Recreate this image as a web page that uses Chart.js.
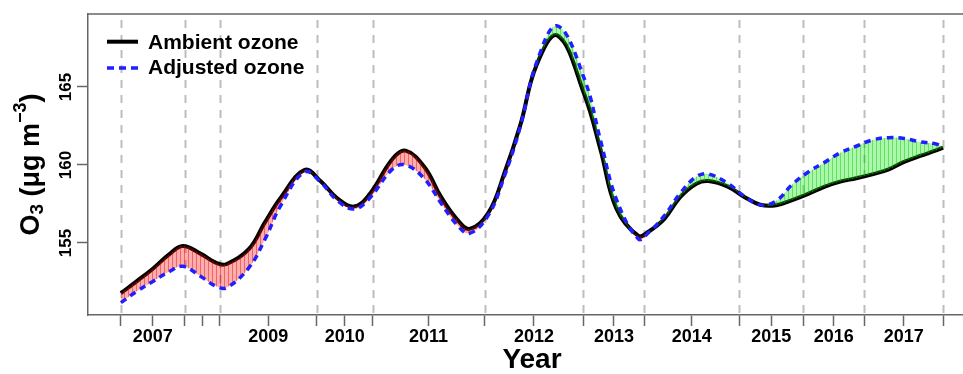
<!DOCTYPE html>
<html><head><meta charset="utf-8">
<script src="https://cdn.jsdelivr.net/npm/chart.js@4.4.1/dist/chart.umd.min.js"></script>
<style>
html,body{margin:0;padding:0;overflow:hidden;background:#fff;width:963px;height:374px}
#wrap{position:absolute;left:0;top:0;width:990px;height:374px}
</style>
</head><body><div id="wrap"><canvas id="c"></canvas></div>
<script>
// observation index (time axis, irregular per year)
const obsIndex = [0,16,32,48,62,80,96,106,128,144,160,184,200,216,233,248,272,285,304,320,336,349,368,384,400,416,437,464,480,496,518,528,544,560,576,588,608,624,640,656,672,688,704,720,736,752,768,784,800,816,823];
const ambientOzone = [151.78,152.55,153.35,154.25,154.81,154.3,153.7,153.65,154.6,156.3,157.9,159.68,158.95,157.9,157.33,158.05,160.4,160.92,159.85,158.0,156.55,155.9,156.95,159.5,162.6,166.4,168.3,164.5,161.0,157.2,155.45,155.72,156.55,157.95,158.8,158.97,158.6,157.95,157.45,157.42,157.75,158.15,158.6,158.93,159.15,159.4,159.7,160.2,160.58,160.93,161.11];
const adjustedOzone = [151.17,151.9,152.53,153.15,153.5,152.85,152.2,152.14,153.4,155.2,157.4,159.55,158.9,157.75,157.18,157.8,159.75,160.0,159.1,157.6,156.2,155.62,156.8,159.3,162.5,166.55,168.92,165.5,161.6,157.8,155.25,155.65,156.75,158.2,159.25,159.42,158.8,158.0,157.44,157.7,158.75,159.55,160.15,160.78,161.2,161.6,161.75,161.7,161.48,161.35,161.17];
const yearBoundaries = [0,64,99,196,252,364,463,524,619,683,744,823];
const yearCenters = [32,81.5,147.5,224,308,413.5,493.5,571.5,651,713.5,783.5];
const yearLabels = ['2007','','2009','2010','2011','2012','2013','2014','2015','2016','2017'];
const yTicks = [155,160,165];
const seriesNames = ['Ambient ozone','Adjusted ozone'];

const FONT = "'Liberation Sans', Arial, sans-serif";
function hatch(bg, stripe){
  const c=document.createElement('canvas'); c.width=4; c.height=4;
  const g=c.getContext('2d'); g.fillStyle=bg; g.fillRect(0,0,4,4);
  g.fillStyle=stripe; g.fillRect(0,0,1,4);
  return g.createPattern(c,'repeat');
}
const redPat = hatch('rgba(255,0,0,0.32)','rgba(215,0,0,0.42)');
const greenPat = hatch('rgba(0,235,0,0.33)','rgba(0,185,0,0.42)');

const pts = arr => obsIndex.map((x,i)=>({x:x,y:arr[i]}));
const BLUE = '#1f1fff';
const DASH = [6.5,5];

const decor = {
  id:'decor',
  beforeDatasetsDraw(chart){
    const {ctx, chartArea:ca, scales:{x}} = chart;
    ctx.save();
    ctx.strokeStyle='#bdbdbd'; ctx.lineWidth=2; ctx.setLineDash([8,7]); ctx.lineDashOffset=-6;
    yearBoundaries.forEach(b=>{
      const px = Math.round(x.getPixelForValue(b))+0.5;
      ctx.beginPath(); ctx.moveTo(px, ca.top); ctx.lineTo(px, ca.bottom); ctx.stroke();
    });
    ctx.restore();
  },
  afterDraw(chart){
    const {ctx, chartArea:ca, scales:{y}} = chart;
    ctx.save();
    ctx.strokeStyle='#666'; ctx.lineWidth=1.5;
    ctx.beginPath(); ctx.moveTo(ca.left, ca.top); ctx.lineTo(ca.right, ca.top); ctx.lineTo(ca.right, ca.bottom); ctx.stroke();
    ctx.fillStyle='#000'; ctx.font='bold 17px '+FONT; ctx.textAlign='center'; ctx.textBaseline='alphabetic';
    yTicks.forEach(v=>{
      const py = y.getPixelForValue(v);
      ctx.save(); ctx.translate(71, py); ctx.rotate(-Math.PI/2); ctx.fillText(String(v),0,0); ctx.restore();
    });
    const pieces=[{t:'O',s:27,dy:0},{t:'3',s:19,dy:4},{t:' (\u03bcg m',s:27,dy:0},{t:'\u22123',s:18,dy:-13},{t:')',s:27,dy:0}];
    let total=0;
    pieces.forEach(p=>{ctx.font='bold '+p.s+'px '+FONT; p.w=ctx.measureText(p.t).width; total+=p.w;});
    ctx.save(); ctx.translate(39,(ca.top+ca.bottom)/2); ctx.rotate(-Math.PI/2);
    ctx.textAlign='left'; let px=-total/2;
    pieces.forEach(p=>{ctx.font='bold '+p.s+'px '+FONT; ctx.fillText(p.t,px,p.dy); px+=p.w;});
    ctx.restore();
    const lx0=ca.left+19, lx1=ca.left+50, tx=ca.left+60;
    ctx.lineCap='butt';
    ctx.strokeStyle='#000'; ctx.lineWidth=4; ctx.setLineDash([]);
    ctx.beginPath(); ctx.moveTo(lx0, ca.top+27.7); ctx.lineTo(lx1, ca.top+27.7); ctx.stroke();
    ctx.strokeStyle=BLUE; ctx.lineWidth=3.5; ctx.setLineDash([7,5]);
    ctx.beginPath(); ctx.moveTo(lx0, ca.top+54); ctx.lineTo(lx1, ca.top+54); ctx.stroke();
    ctx.setLineDash([]);
    ctx.fillStyle='#000'; ctx.font='bold 21px '+FONT; ctx.textAlign='left'; ctx.textBaseline='alphabetic';
    ctx.fillText(seriesNames[0], tx, ca.top+34.5);
    ctx.fillText(seriesNames[1], tx, ca.top+60);
    ctx.restore();
  }
};

new Chart(document.getElementById('c'), {
  type:'line',
  data:{datasets:[
    {label:seriesNames[1], data:pts(adjustedOzone), borderColor:BLUE, borderWidth:3.5, borderDash:DASH,
     pointRadius:0, tension:0.4, fill:{target:1, above:greenPat, below:redPat}},
    {label:seriesNames[0], data:pts(ambientOzone), borderColor:'#000', borderWidth:4,
     pointRadius:0, tension:0.4, fill:false}
  ]},
  options:{
    responsive:true, maintainAspectRatio:false, animation:false, devicePixelRatio:1,
    layout:{padding:{top:14,right:14,left:0,bottom:0}},
    plugins:{legend:{display:false}, tooltip:{enabled:false}},
    scales:{
      x:{type:'linear', min:-32.92, max:855.92,
        afterBuildTicks:s=>{ const v=yearBoundaries.concat(yearCenters).sort((a,b)=>a-b); s.ticks=v.map(t=>({value:t})); },
        ticks:{autoSkip:false, maxRotation:0, minRotation:0, padding:0, color:'#000',
          font:{family:FONT, size:18, weight:'bold'},
          callback:(v)=>{ const i=yearCenters.indexOf(v); return i>=0?yearLabels[i]:''; }},
        grid:{drawOnChartArea:false, drawTicks:true, tickLength:11, tickColor:'#666', tickWidth:1.5},
        border:{color:'#666', width:1.5},
        title:{display:true, text:'Year', color:'#000', font:{family:FONT, size:28, weight:'bold', lineHeight:1}, padding:{top:0,bottom:0}},
        afterFit:s=>{s.height=59;}
      },
      y:{type:'linear', min:150.38, max:169.68,
        afterBuildTicks:s=>{ s.ticks=yTicks.map(t=>({value:t})); },
        ticks:{display:false},
        grid:{drawOnChartArea:false, drawTicks:true, tickLength:11, tickColor:'#666', tickWidth:1.5},
        border:{color:'#666', width:1.5},
        afterFit:s=>{s.width=88;}
      }
    }
  },
  plugins:[decor]
});
</script>
</body></html>
